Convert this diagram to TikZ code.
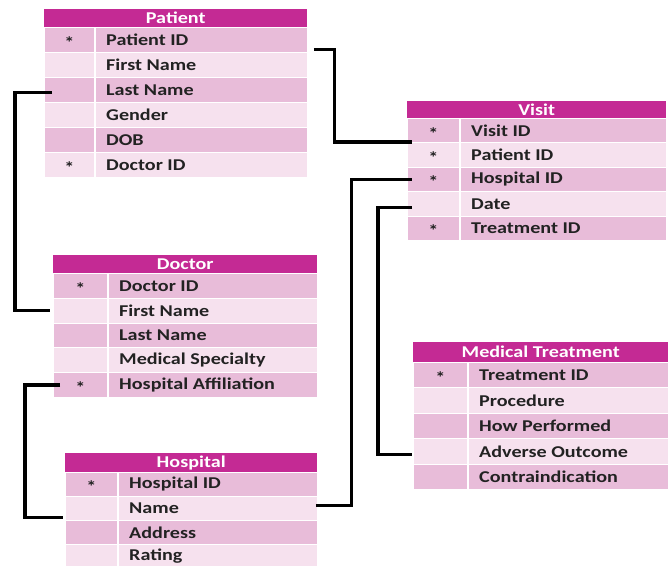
\documentclass[tikz,border=0pt]{standalone}
\usepackage{fontspec}
\newfontfamily\tblfont[FakeStretch=1.22]{Carlito}
\usetikzlibrary{calc}
\definecolor{hdrc}{HTML}{C42A94}
\definecolor{rowdark}{HTML}{E8BCD9}
\definecolor{rowlight}{HTML}{F6E1EE}
\definecolor{txtc}{HTML}{222222}
\tikzset{
  hdr/.style={fill=hdrc, draw=none, inner sep=0pt, text=white,
    font=\tblfont\bfseries\fontsize{16.5}{18}\selectfont},
  rowbox/.style={draw=white, line width=0.8pt, inner sep=0pt},
  txt/.style={inner sep=0pt, text=txtc, font=\tblfont\bfseries\fontsize{16.5}{18}\selectfont},
  divline/.style={draw=white, line width=1.4pt},
  conn/.style={draw=black, line width=3.3pt, line join=miter}
}
% #1 prefix, #2 x, #3 ytop, #4 width, #5 divider offset, #6 header h, #7 row h, #8 title, #9 rows
\newcommand\erdtable[9]{%
  \node[hdr, minimum width=#4pt, minimum height=#6pt, anchor=north west] (#1h) at (#2,-#3) {#8};
  \foreach \rs/\rt [count=\i] in {#9} {
    \pgfmathsetmacro\yy{-(#3+#6+(\i-1)*#7)}
    \ifodd\i \def\rc{rowdark}\else\def\rc{rowlight}\fi
    \node[rowbox, fill=\rc, minimum width=#4pt, minimum height=#7pt, anchor=north west] (#1\i) at (#2,\yy) {};
    \draw[divline] ([xshift=#5pt]#1\i.north west) -- ([xshift=#5pt]#1\i.south west);
    \node[txt] (#1s\i) at ([xshift=#5pt/2, yshift=-2.5pt]#1\i.west) {\rs};
    \node[txt, anchor=west] (#1t\i) at ([xshift=#5pt+11pt]#1\i.west) {\rt};
  }
}
\begin{document}
\begin{tikzpicture}[x=1pt,y=1pt]
\useasboundingbox (0,0) rectangle (668,-565);
\fill[white] (0,0) rectangle (668,-565);
\erdtable{p}{44}{9}{263}{51}{18}{25}{Patient}{*/Patient ID, /First Name, /Last Name, /Gender, /DOB, */Doctor ID}
\erdtable{v}{407}{101}{259}{53}{17}{24.4}{Visit}{*/Visit ID, */Patient ID, */Hospital ID, /Date, */Treatment ID}
\erdtable{d}{53}{255}{264}{55}{18}{24.8}{Doctor}{*/Doctor ID, /First Name, /Last Name, /Medical Specialty, */Hospital Affiliation}
\erdtable{h}{65}{453}{252}{53}{19}{24}{Hospital}{*/Hospital ID, /Name, /Address, /Rating}
\erdtable{m}{413}{342}{255}{55}{20}{25.4}{Medical Treatment}{*/Treatment ID, /Procedure, /How Performed, /Adverse Outcome, /Contraindication}
% connectors
\draw[conn] ([shift={(6,-9.5)}]p1.east) -- ++(21,0) |- ([shift={(5,-11.5)}]v1.west);
\draw[conn] ([shift={(8,-2.5)}]p3.west) -- ++(-37,0) |- ([shift={(-3,0)}]d2.west);
\draw[conn] ([shift={(7,0)}]d5.west) -- ++(-35,0) |- ([shift={(-2,-9)}]h2.west);
\draw[conn] ([shift={(-2,3)}]h2.east) -- ++(36,0) |- ([shift={(5,0)}]v3.west);
\draw[conn] ([shift={(5,-4)}]v4.west) -- ++(-34,0) |- ([shift={(-1,-3.5)}]m4.west);
\end{tikzpicture}
\end{document}
